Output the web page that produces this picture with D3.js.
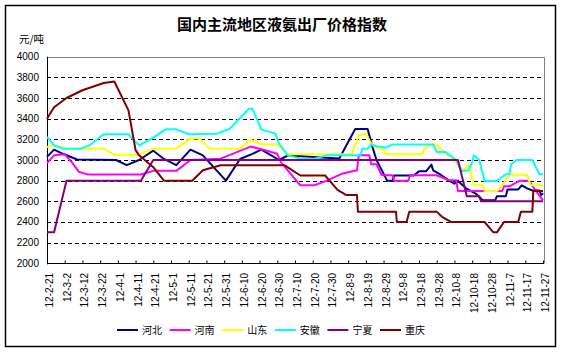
<!DOCTYPE html>
<html>
<head>
<meta charset="utf-8">
<script src="https://cdn.jsdelivr.net/npm/d3@7"></script>
<style>
  body { margin: 0; background: #fff; }
  svg { display: block; }
  text { font-family: "Liberation Sans", Arial, sans-serif; }
  .cjk { font-family: "Noto Sans CJK SC", sans-serif; }
</style>
</head>
<body>
<div id="chart"></div>
<script>
const w = 567
const h = 353

// days counted from 2012-02-21, one label every 10 days
const tickLabels = ['12-2-21', '12-3-2', '12-3-12', '12-3-22', '12-4-1', '12-4-11', '12-4-21', '12-5-1',
    '12-5-11', '12-5-21', '12-5-31', '12-6-10', '12-6-20', '12-6-30', '12-7-10', '12-7-20', '12-7-30',
    '12-8-9', '12-8-19', '12-8-29', '12-9-8', '12-9-18', '12-9-28', '12-10-8', '12-10-18', '12-10-28',
    '12-11-7', '12-11-17', '12-11-27']
const yTicks = [2000, 2200, 2400, 2600, 2800, 3000, 3200, 3400, 3600, 3800, 4000]

const names = ['河北', '河南', '山东', '安徽', '宁夏', '重庆']
const colors = ['#000080', '#ff00ff', '#ffff00', '#00ffff', '#800080', '#800000']

const hebei = [[0, 3030], [4, 3100], [9, 3060], [17, 3005], [39, 3000], [45, 2950], [52, 3000], [60, 3090],
    [66, 3010], [73, 2950], [81, 3100], [88, 3045], [101, 2800], [109, 3010], [116, 3060], [121, 3100],
    [131, 3000], [136, 3045], [150, 3030], [165, 3015], [174, 3300], [181, 3300], [184, 3110], [186, 3000],
    [189, 2900], [192, 2800], [195, 2800], [196, 2850], [207, 2850], [210, 2890], [214, 2890], [217, 2955],
    [218, 2900], [222, 2860], [227, 2800], [230, 2770], [232, 2800], [234, 2765], [237, 2720], [242, 2675],
    [246, 2610], [253, 2610], [254, 2650], [259, 2650], [260, 2715], [266, 2715], [268, 2755], [271, 2725],
    [274, 2705], [278, 2705], [279, 2660], [280, 2680]]
const henan = [[0, 2970], [4, 3045], [10, 3055], [14, 2980], [18, 2885], [23, 2860], [53, 2860], [60, 2895],
    [73, 2895], [81, 3000], [98, 3013], [115, 3130], [122, 3100], [130, 3060], [132, 2980], [143, 2755],
    [151, 2755], [158, 2800], [167, 2870], [175, 2900], [176, 3045], [182, 3045], [183, 2958], [186, 2958],
    [189, 2852], [195, 2852], [196, 2800], [204, 2800], [205, 2852], [220, 2852], [227, 2803], [231, 2803],
    [232, 2700], [257, 2700], [258, 2745], [261, 2745], [267, 2800], [272, 2800], [275, 2725], [280, 2610]]
const shandong = [[0, 3126], [4, 3142], [11, 3110], [32, 3110], [38, 3052], [52, 3052], [60, 3110], [73, 3110],
    [81, 3207], [86, 3207], [92, 3110], [109, 3110], [115, 3197], [121, 3150], [130, 3150], [136, 3055],
    [172, 3055], [176, 3239], [180, 3255], [183, 3159], [185, 3126], [190, 3100], [191, 3055], [212, 3055],
    [213, 3110], [217, 3150], [220, 3150], [223, 3094], [229, 3013], [235, 2900], [238, 2949], [241, 2755],
    [246, 2755], [247, 2700], [254, 2700], [257, 2755], [261, 2858], [271, 2858], [273, 2755], [280, 2755]]
const anhui = [[0, 3223], [4, 3142], [9, 3110], [19, 3110], [24, 3142], [32, 3249], [46, 3249], [52, 3142],
    [60, 3217], [67, 3297], [73, 3297], [80, 3249], [96, 3255], [103, 3300], [114, 3497], [116, 3497],
    [121, 3294], [129, 3255], [131, 3159], [136, 3045], [143, 3013], [151, 3013], [158, 3045], [177, 3045],
    [178, 3110], [181, 3110], [183, 3150], [186, 3133], [191, 3120], [194, 3142], [195, 3150], [218, 3150],
    [220, 3078], [225, 3078], [231, 3000], [234, 2894], [238, 2900], [240, 2980], [241, 3045], [244, 3000],
    [247, 2797], [254, 2797], [259, 2862], [261, 2862], [262, 2958], [265, 3000], [274, 3000], [278, 2862],
    [280, 2862]]
const ningxia = [[0, 2300], [4, 2300], [11, 2800], [53, 2800], [60, 3000], [232, 3000], [237, 2650],
    [244, 2650], [245, 2600], [280, 2600]]
const chongqing = [[0, 3400], [4, 3510], [11, 3600], [20, 3675], [32, 3745], [38, 3760], [46, 3480],
    [50, 3095], [52, 3045], [60, 2930], [66, 2800], [82, 2800], [88, 2900], [98, 2950], [134, 2950],
    [143, 2850], [157, 2850], [164, 2710], [169, 2660], [175, 2660], [175.5, 2500], [197, 2500], [197.5, 2400],
    [203, 2400], [204.5, 2500], [220, 2500], [223, 2450], [228, 2400], [247, 2400], [252, 2300], [254, 2300],
    [258, 2400], [266, 2400], [267.5, 2500], [274, 2500], [274.5, 2700], [280, 2700]]

const series = [hebei, henan, shandong, anhui, ningxia, chongqing]

const svg = d3.select('#chart')
    .append('svg')
    .attr('width', w)
    .attr('height', h)

// chart frame
svg.append('rect')
    .attr('x', 5.5).attr('y', 5.5)
    .attr('width', 550).attr('height', 341)
    .attr('fill', 'none')
    .attr('stroke', '#000')
    .attr('stroke-width', 1.5)

const plotLeft = 47, plotRight = 544, plotTop = 56.7, plotBottom = 263.3

const xScale = d3.scaleLinear().domain([0, 280]).range([47, 543])
const yScale = d3.scaleLinear().domain([2000, 4000]).range([plotBottom, plotTop])

// dashed grid
svg.append('g')
    .selectAll('line')
    .data(yTicks.slice(1, -1))
    .enter()
    .append('line')
    .attr('x1', plotLeft).attr('x2', plotRight)
    .attr('y1', d => Math.round(yScale(d)) + 0.5)
    .attr('y2', d => Math.round(yScale(d)) + 0.5)
    .attr('stroke', '#000')
    .attr('stroke-dasharray', '4,3')

// top and right border, grey
svg.append('path')
    .attr('d', `M${plotLeft},${Math.round(plotTop) + 0.5}H${plotRight + 0.5}V${plotBottom}`)
    .attr('fill', 'none')
    .attr('stroke', '#808080')

// y labels
svg.append('g')
    .selectAll('text')
    .data(yTicks)
    .enter()
    .append('text')
    .attr('x', 39)
    .attr('y', d => yScale(d))
    .attr('dy', '0.35em')
    .attr('text-anchor', 'end')
    .style('font-size', '10px')
    .text(d => d)

const xAxis = d3.axisBottom(xScale)
    .tickValues(d3.range(0, 281, 10))
    .tickFormat((d, i) => tickLabels[i])
    .tickSizeInner(-3)
    .tickSizeOuter(0)

svg.append('g')
    .attr('transform', `translate(0, ${Math.round(plotBottom) + 0.5})`)
    .call(xAxis)
    .call(g => g.select('.domain').attr('stroke', '#000').attr('d', `M${plotLeft},0H${plotRight}`))
    .call(g => g.selectAll('.tick line').attr('stroke', '#000'))
    .call(g => g.selectAll('.tick text')
        .attr('transform', 'rotate(-90)')
        .attr('x', -9.5)
        .attr('y', 2)
        .attr('dy', '0.35em')
        .attr('text-anchor', 'end')
        .attr('fill', '#000')
        .style('font-size', '10px')
        .style('font-family', '"Liberation Sans", Arial, sans-serif'))

// y axis line
svg.append('line')
    .attr('x1', plotLeft + 0.5).attr('x2', plotLeft + 0.5)
    .attr('y1', plotTop).attr('y2', plotBottom + 1)
    .attr('stroke', '#000')

const line = d3.line()
    .x(d => xScale(d[0]))
    .y(d => yScale(d[1]))

svg.append('g')
    .selectAll('path')
    .data(series)
    .enter()
    .append('path')
    .attr('d', line)
    .attr('fill', 'none')
    .attr('stroke', (d, i) => colors[i])
    .attr('stroke-width', 2)
    .attr('stroke-linejoin', 'round')

// titles
svg.append('text')
    .attr('class', 'cjk')
    .attr('x', 282)
    .attr('y', 30)
    .attr('text-anchor', 'middle')
    .style('font-size', '15px')
    .style('font-weight', 'bold')
    .text('国内主流地区液氨出厂价格指数')

svg.append('text')
    .attr('class', 'cjk')
    .attr('x', 19)
    .attr('y', 43)
    .style('font-size', '10.5px')
    .text('元/吨')

// legend
const legend = svg.append('g')
    .selectAll('g')
    .data(names)
    .enter()
    .append('g')
    .attr('transform', (d, i) => `translate(${117 + i * 52.6}, 330)`)

legend.append('line')
    .attr('x1', 0).attr('x2', 21)
    .attr('stroke', (d, i) => colors[i])
    .attr('stroke-width', 2)

legend.append('text')
    .attr('class', 'cjk')
    .attr('x', 25)
    .attr('dy', '0.36em')
    .style('font-size', '10px')
    .text(d => d)
</script>
</body>
</html>
